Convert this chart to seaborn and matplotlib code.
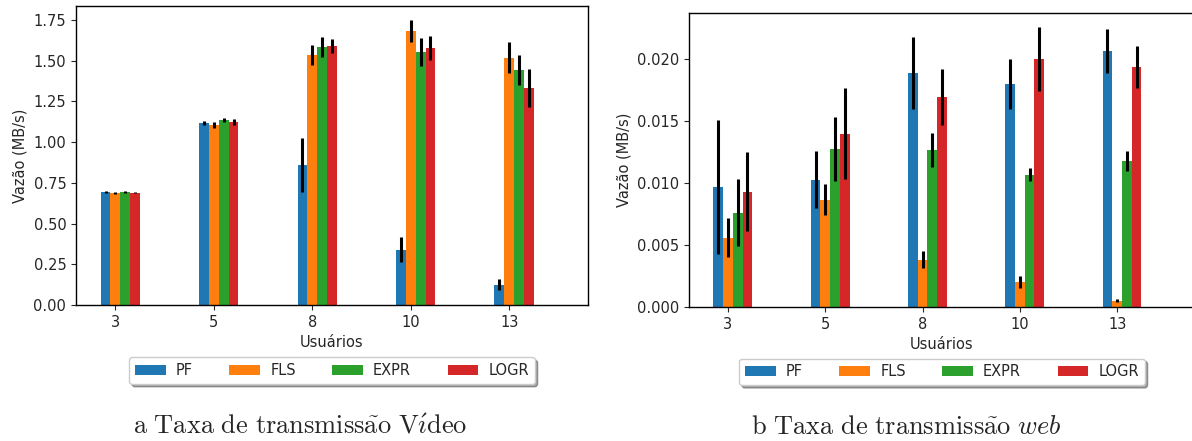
import numpy as np
import pandas as pd
import matplotlib
matplotlib.use("Agg")
import matplotlib.pyplot as plt
import seaborn as sns

# Number of users (x categories) and schedulers (hue)
usuarios = ["3", "5", "8", "10", "13"]
escalonadores = ["PF", "FLS", "EXPR", "LOGR"]
cores = ["#1f77b4", "#ff7f0e", "#2ca02c", "#d62728"]

# Video throughput (MB/s) and error bar half-widths
video_pf = [0.693, 1.116, 0.861, 0.339, 0.125]
video_fls = [0.687, 1.104, 1.535, 1.683, 1.517]
video_expr = [0.693, 1.137, 1.585, 1.550, 1.443]
video_logr = [0.689, 1.125, 1.591, 1.578, 1.333]
video_err_pf = [0.004, 0.014, 0.166, 0.076, 0.036]
video_err_fls = [0.004, 0.020, 0.062, 0.066, 0.095]
video_err_expr = [0.004, 0.011, 0.061, 0.086, 0.090]
video_err_logr = [0.004, 0.018, 0.042, 0.074, 0.115]

# Web throughput (MB/s) and error bar half-widths
web_pf = [0.00970, 0.01027, 0.01887, 0.01799, 0.02064]
web_fls = [0.00560, 0.00866, 0.00383, 0.00204, 0.00051]
web_expr = [0.00761, 0.01276, 0.01268, 0.01067, 0.01180]
web_logr = [0.00930, 0.01397, 0.01694, 0.02000, 0.01936]
web_err_pf = [0.0054, 0.0023, 0.0029, 0.0020, 0.00174]
web_err_fls = [0.0016, 0.00125, 0.00066, 0.00048, 0.00013]
web_err_expr = [0.0027, 0.0026, 0.00138, 0.00054, 0.0008]
web_err_logr = [0.0032, 0.00365, 0.00224, 0.00256, 0.0017]


def long_frame(series):
    """Build a long-form table (Usuarios, Escalonador, Vazao) for seaborn."""
    rows = []
    for nome, valores in zip(escalonadores, series):
        for u, v in zip(usuarios, valores):
            rows.append({"Usuarios": u, "Escalonador": nome, "Vazao": v})
    return pd.DataFrame(rows)


def draw_panel(ax, series, erros, ylim, yticks, fmt):
    df = long_frame(series)
    sns.barplot(data=df, x="Usuarios", y="Vazao", hue="Escalonador",
                order=usuarios, hue_order=escalonadores, palette=cores,
                errorbar=None, width=0.4, saturation=1, linewidth=0,
                edgecolor="none", ax=ax)
    # error bars at the centre of every bar
    for cont, err in zip(ax.containers, erros):
        xs = [p.get_x() + p.get_width() / 2 for p in cont.patches]
        hs = [p.get_height() for p in cont.patches]
        ax.errorbar(xs, hs, yerr=err, fmt="none", ecolor="black",
                    elinewidth=2.2, capsize=0, zorder=3)
    # ticks sit under the second bar of each group
    ax.set_xticks(np.arange(len(usuarios)) - 0.05, usuarios)
    ax.set_xlim(-0.45, 4.75)
    ax.set_ylim(*ylim)
    ax.set_yticks(yticks)
    ax.yaxis.set_major_formatter(matplotlib.ticker.FormatStrFormatter(fmt))
    ax.set_xlabel("Usuários")
    ax.set_ylabel("Vazão (MB/s)")
    ax.legend(loc="upper center", bbox_to_anchor=(0.5, -0.175), ncol=4,
              shadow=True, handlelength=2.1, columnspacing=2.5,
              handletextpad=0.7, borderaxespad=0)


sns.set_style("ticks")
plt.rcParams["font.family"] = ["DejaVu Sans"]
plt.rcParams["font.size"] = 10.5
plt.rcParams["axes.edgecolor"] = "black"
plt.rcParams["axes.linewidth"] = 1.0
plt.rcParams["mathtext.fontset"] = "cm"

fig = plt.figure(figsize=(11.92, 4.41), dpi=100)
ax1 = fig.add_axes([76 / 1192, 1 - 305 / 441, 512 / 1192, 299 / 441])
ax2 = fig.add_axes([689 / 1192, 1 - 307 / 441, 506 / 1192, 294.3 / 441])

draw_panel(ax1, [video_pf, video_fls, video_expr, video_logr],
           [video_err_pf, video_err_fls, video_err_expr, video_err_logr],
           (0, 1.835), np.arange(0, 1.76, 0.25), "%.2f")
draw_panel(ax2, [web_pf, web_fls, web_expr, web_logr],
           [web_err_pf, web_err_fls, web_err_expr, web_err_logr],
           (0, 0.02373), np.arange(0, 0.0201, 0.005), "%.3f")

# captions in Computer Modern through mathtext
cap_a = r"$\mathrm{a\ Taxa\ de\ transmiss\tilde{a}o\ V\acute{\imath}deo}$"
cap_b = r"$\mathrm{b\ Taxa\ de\ transmiss\tilde{a}o\ }web$"
fig.text(300 / 1192, 1 - 427 / 441, cap_a, fontsize=19,
         ha="center", va="center")
fig.text(906 / 1192, 1 - 427 / 441, cap_b, fontsize=19,
         ha="center", va="center")

fig.savefig("out.png", dpi=100)
